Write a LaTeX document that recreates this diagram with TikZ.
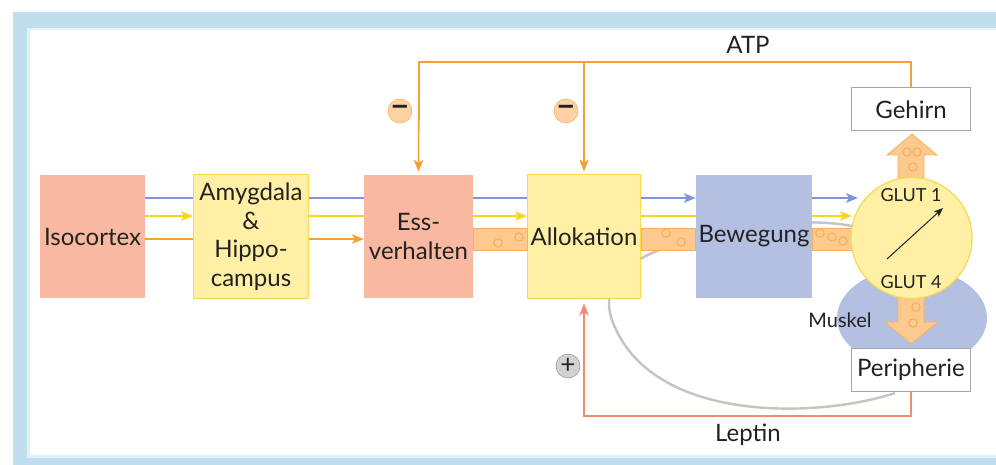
\documentclass[tikz,border=0pt]{standalone}
\usepackage{fontspec}
\setmainfont{Lato}
\usetikzlibrary{arrows.meta,calc}
\definecolor{frameblue}{HTML}{BFDEEE}
\definecolor{framelight}{HTML}{E2F1F8}
\definecolor{salmon}{HTML}{F9B9A1}
\definecolor{lyellow}{HTML}{FFF0A6}
\definecolor{yborder}{HTML}{FAD84A}
\definecolor{lavender}{HTML}{B3C0E2}
\definecolor{blueline}{HTML}{7F95D5}
\definecolor{yellowline}{HTML}{F7D61C}
\definecolor{orangeline}{HTML}{F5A035}
\definecolor{pipefill}{HTML}{FCC98E}
\definecolor{pipeedge}{HTML}{F7B060}
\definecolor{leptin}{HTML}{F08C74}
\definecolor{graycurve}{HTML}{C4C4C4}
\definecolor{txt}{HTML}{222222}
\tikzset{
  x=1pt, y=-1pt,
  boxtext/.style={text=txt, align=center, font=\fontsize{24}{28.5}\selectfont, inner sep=0pt},
  salbox/.style={boxtext, fill=salmon, minimum height=123pt},
  yelbox/.style={boxtext, fill=lyellow, draw=yborder, line width=1pt, minimum height=123pt},
  lavbox/.style={boxtext, fill=lavender, minimum height=123pt},
  whitebox/.style={boxtext, fill=white, draw=gray!70, line width=1pt, minimum width=119pt, minimum height=43pt},
  tip/.style={-{Stealth[length=12pt,width=9.5pt,inset=3pt]}},
  bline/.style={draw=blueline, line width=2pt},
  yline/.style={draw=yellowline, line width=2pt},
  oline/.style={draw=orangeline, line width=2pt},
  pipe/.style={fill=pipefill, draw=pipeedge, line width=0.8pt},
  bubble/.style={draw=orangeline!90, line width=0.8pt},
  signc/.style={circle, minimum size=24pt, inner sep=0pt, font=\bfseries\fontsize{32}{32}\selectfont, text=txt},
  smalltext/.style={text=txt, font=\fontsize{18}{18}\selectfont, inner sep=0pt},
}
\begin{document}
\begin{tikzpicture}
\useasboundingbox (0,0) rectangle (996,465);
% frame
\fill[frameblue] (13,12) rectangle (996,465);
\fill[framelight] (27,28) rectangle (996,458);
\fill[white] (30,30.5) rectangle (996,455);

% muscle ellipse
\fill[lavender] (912,318) ellipse [x radius=75, y radius=50];

% gray cycle curve (behind boxes)
\draw[graycurve, line width=2.4pt] (895,393) .. controls (820,418) and (650,425) .. (612,320)
  .. controls (600,285) and (625,262) .. (665,248)
  .. controls (720,228) and (800,216) .. (852,226);

% boxes
\node[salbox, minimum width=105pt] (iso) at (92.5,236.5) {Isocortex};
\node[yelbox, minimum width=115pt] (amy) at (251,236.5) {Amygdala\\\&\\Hippo-\\campus};
\node[salbox, minimum width=109pt] (ess) at (418.5,236.5) {Ess-\\verhalten};
\node[yelbox, minimum width=113pt] (allo) at (584,236.5) {Allokation};
\node[lavbox, minimum width=116pt] (bew) at (754,236.5) {Bewegung};
\node[whitebox] (geh) at (911,109.5) {Gehirn};
\node[whitebox] (peri) at (911,369.5) {Peripherie};

% pipes
\path[pipe] (ess.east |- 0,228) rectangle (allo.west |- 0,250);
\path[pipe] (allo.east |- 0,228) rectangle (bew.west |- 0,250);
\path[pipe] (bew.east |- 0,228) rectangle (858,250);
\foreach \p in {(498,243),(519,237),(666,233),(681,242),(820,233),(832,237),(843,241)}
  \draw[bubble] \p circle[radius=4.2];

% thick up/down arrows
\path[pipe] (898,180) -- (898,155) -- (887,155) -- (912,134) -- (937,155) -- (924,155) -- (924,180) -- cycle;
\path[pipe] (898,296) -- (898,322) -- (885,322) -- (911,344) -- (938,322) -- (924,322) -- (924,296) -- cycle;
\foreach \p in {(907,152),(917,152),(913,167),(916,307),(913,323)}
  \draw[bubble] \p circle[radius=4.2];

% GLUT circle
\node[circle, fill=lyellow, draw=yborder, line width=1.2pt, minimum size=121pt, inner sep=0pt] (glut) at (911.5,238) {};
\node[smalltext] (g1) at (911,195) {GLUT 1};
\node[smalltext] (g4) at (911,282) {GLUT 4};
\coordinate (ga) at (887,259);
\coordinate (gb) at (943,208);
\draw[-{Stealth[length=9pt,width=7pt,inset=2pt]}, line width=1pt, txt] (ga) -- (gb);
\node[smalltext, font=\fontsize{20}{20}\selectfont] (musk) at (840,320) {Muskel};

% colored flow lines
\draw[bline] (iso.east |- 0,198) -- (amy.west |- 0,198);
\draw[yline, tip] (iso.east |- 0,216) -- (amy.west |- 0,216);
\draw[oline] (iso.east |- 0,239) -- (amy.west |- 0,239);

\draw[bline] (amy.east |- 0,198) -- (ess.west |- 0,198);
\draw[yline] (amy.east |- 0,216) -- (ess.west |- 0,216);
\draw[oline, tip] (amy.east |- 0,239) -- (ess.west |- 0,239);

\draw[bline] (ess.east |- 0,198) -- (allo.west |- 0,198);
\draw[yline, tip] (ess.east |- 0,216) -- (allo.west |- 0,216);

\draw[bline, tip] (allo.east |- 0,198) -- (bew.west |- 0,198);
\draw[yline] (allo.east |- 0,216) -- (bew.west |- 0,216);

\coordinate (bt) at (858,198);
\coordinate (yt) at (852,216);
\draw[bline, tip] (bew.east |- 0,198) -- (bt);
\draw[yline, tip] (bew.east |- 0,216) -- (yt);

% ATP feedback
\coordinate (atpR) at (911,62);
\coordinate (atpL) at (419,62);
\coordinate (atpM) at (584,62);
\draw[oline, line width=1.6pt] (geh.north) -- (atpR) -- (atpL) -- (atpL |- 0,120);
\draw[oline, line width=1.6pt, tip, shorten >=3pt] (atpL) -- (ess.north);
\draw[oline, line width=1.6pt, tip, shorten >=3pt] (atpM) -- (allo.north);
\node[text=txt, font=\fontsize{24}{24}\selectfont, inner sep=0pt] (atp) at (748,45) {ATP};
\node[signc, fill=orange!35!white, draw=orangeline] (m1) at (400,111) {−};
\node[signc, fill=orange!35!white, draw=orangeline] (m2) at (566,111) {−};

% Leptin feedback
\coordinate (lepR) at (911,416);
\coordinate (lepL) at (584,416);
\draw[leptin, line width=1.6pt, tip, shorten >=5pt] (peri.south) -- (lepR) -- (lepL) -- (allo.south);
\node[text=txt, font=\fontsize{24}{24}\selectfont, inner sep=0pt] (lep) at (748,435) {Leptin};
\node[signc, fill=gray!35!white, draw=gray, font=\fontsize{26}{26}\selectfont] (p1) at (568,366) {+};
\end{tikzpicture}
\end{document}
